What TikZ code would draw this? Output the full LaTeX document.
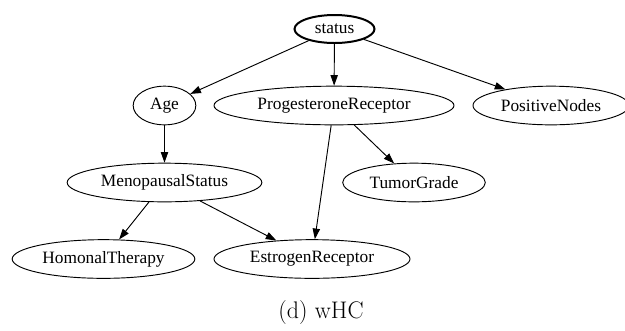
\documentclass[tikz,border=0pt]{standalone}
\usepackage{fontspec}
\newfontfamily\nodefont{Liberation Serif}
\usetikzlibrary{arrows.meta,shapes.geometric}

\begin{document}
\begin{tikzpicture}[
  x=0.75pt, y=-0.75pt,
  var/.style={ellipse, draw, line width=0.7pt, inner sep=0pt, font=\nodefont\fontsize{13}{15}\selectfont, minimum height=29pt},
  cls/.style={var, line width=1.5pt, minimum height=21pt},
  lin/.style={-{Triangle[length=8pt,width=5.5pt]}, line width=0.7pt}
]
\useasboundingbox (0,0) rectangle (625,330);
% clase
\node[cls, minimum width=60pt] (status) at (334.5,29) {status};
% primer nivel
\node[var, minimum width=47pt] (age) at (164.5,105.5) {Age};
\node[var, minimum width=180pt] (prog) at (334,105.5) {ProgesteroneReceptor};
\node[var, minimum width=117pt] (pos) at (551,105.5) {PositiveNodes};
% segundo nivel
\node[var, minimum width=146pt] (meno) at (164.5,182.5) {MenopausalStatus};
\node[var, minimum width=107pt] (tumor) at (414,182.5) {TumorGrade};
% tercer nivel
\node[var, minimum width=137pt] (hormo) at (103.5,259) {HomonalTherapy};
\node[var, minimum width=147pt] (estro) at (312,259) {EstrogenReceptor};
% aristas
\draw[lin] (status) -- (age);
\draw[lin] (status) -- (prog);
\draw[lin] (status) -- (pos);
\draw[lin] (age) -- (meno);
\draw[lin] (prog) -- (tumor);
\draw[lin] (prog) -- (estro);
\draw[lin] (meno) -- (hormo);
\draw[lin] (meno) -- (estro);
% leyenda
\node[font=\fontsize{18}{21}\selectfont] (cap) at (321,313) {(d) wHC};
\end{tikzpicture}
\end{document}
